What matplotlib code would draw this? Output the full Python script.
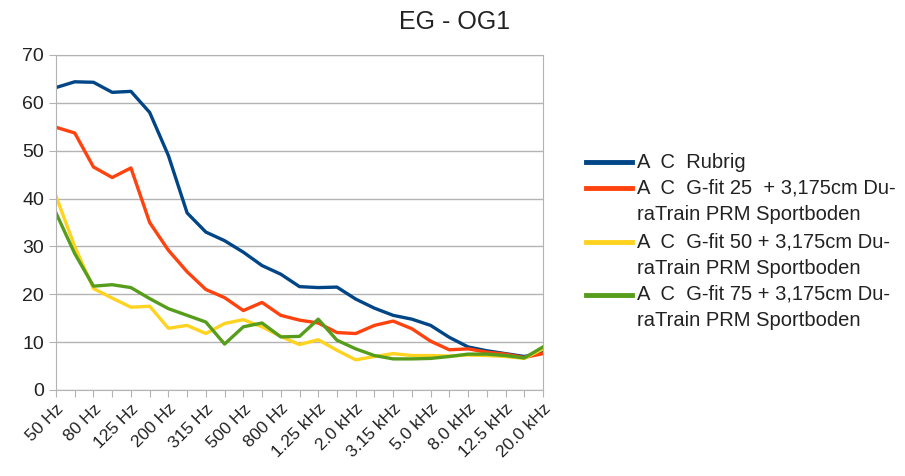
import matplotlib.pyplot as plt
from matplotlib.lines import Line2D

plt.rcParams['font.family'] = ['Liberation Sans', 'DejaVu Sans']

# Terzbänder 50 Hz .. 20 kHz
baender = ["50 Hz", "63 Hz", "80 Hz", "100 Hz", "125 Hz", "160 Hz", "200 Hz",
           "250 Hz", "315 Hz", "400 Hz", "500 Hz", "630 Hz", "800 Hz", "1.0 kHz",
           "1.25 kHz", "1.6 kHz", "2.0 kHz", "2.5 kHz", "3.15 kHz", "4.0 kHz",
           "5.0 kHz", "6.3 kHz", "8.0 kHz", "10.0 kHz", "12.5 kHz", "16.0 kHz",
           "20.0 kHz"]

rubrig = [63.2, 64.4, 64.3, 62.2, 62.4, 58.0, 49.0, 37.0, 33.0, 31.2, 28.8,
          26.0, 24.2, 21.6, 21.4, 21.5, 19.0, 17.1, 15.6, 14.8, 13.5, 11.0,
          9.0, 8.2, 7.6, 7.0, 7.8]
gfit25 = [54.9, 53.7, 46.6, 44.4, 46.4, 35.0, 29.2, 24.7, 21.0, 19.3, 16.6,
          18.3, 15.6, 14.6, 14.0, 12.0, 11.8, 13.5, 14.4, 12.8, 10.2, 8.4,
          8.6, 7.9, 7.5, 6.8, 7.6]
gfit50 = [40.5, 30.0, 21.2, 19.2, 17.3, 17.5, 12.9, 13.5, 11.8, 13.9, 14.7,
          13.2, 11.2, 9.5, 10.5, 8.3, 6.3, 7.0, 7.6, 7.2, 7.2, 7.1, 7.3,
          7.2, 7.0, 6.6, 8.6]
gfit75 = [37.0, 28.5, 21.7, 22.0, 21.4, 19.1, 17.0, 15.6, 14.2, 9.6, 13.2,
          14.0, 11.1, 11.2, 14.8, 10.4, 8.6, 7.2, 6.5, 6.5, 6.6, 7.0, 7.5,
          7.5, 7.2, 6.7, 9.0]

serien = [
    (rubrig, "#004586", ["A  C  Rubrig"]),
    (gfit25, "#ff420e", ["A  C  G-fit 25  + 3,175cm Du-", "raTrain PRM Sportboden"]),
    (gfit50, "#ffd320", ["A  C  G-fit 50 + 3,175cm Du-", "raTrain PRM Sportboden"]),
    (gfit75, "#579d1c", ["A  C  G-fit 75 + 3,175cm Du-", "raTrain PRM Sportboden"]),
]

W, H = 905, 476
fig = plt.figure(figsize=(W / 100, H / 100), dpi=100)
ax = fig.add_axes([56 / W, 1 - 390 / H, (543 - 56) / W, (390 - 55) / H])

x = list(range(len(baender)))
for werte, farbe, _ in serien:
    ax.plot(x, werte, color=farbe, lw=2.4, solid_joinstyle='round')

grau = "#b3b3b3"
ax.set_xlim(0, len(baender) - 1)
ax.set_ylim(0, 70)
ax.set_yticks(range(0, 71, 10))
ax.yaxis.grid(True, color=grau, lw=1)
ax.set_axisbelow(True)
for s in ax.spines.values():
    s.set_color(grau)
ax.set_xticks(x)
ax.set_xticklabels([b if i % 2 == 0 else "" for i, b in enumerate(baender)],
                   rotation=45, ha='right', rotation_mode='anchor', fontsize=12.5,
                   color="#222222")
ax.tick_params(axis='x', length=5, color=grau, pad=3)
ax.tick_params(axis='y', length=5, color=grau, labelsize=14, labelcolor="#222222")

fig.text(455 / W, 1 - 22 / H, "EG - OG1", ha='center', va='center',
         fontsize=18, color="#222222")

# Legende von Hand
zeile = 162
for werte, farbe, texte in serien:
    yf = 1 - zeile / H
    fig.add_artist(Line2D([586 / W, 632 / W], [yf, yf], color=farbe, lw=3.5,
                          transform=fig.transFigure))
    for t in texte:
        fig.text(637 / W, 1 - zeile / H, t, ha='left', va='center',
                 fontsize=14.5, color="#222222")
        zeile += 26.5

fig.savefig("out.png", dpi=100)
